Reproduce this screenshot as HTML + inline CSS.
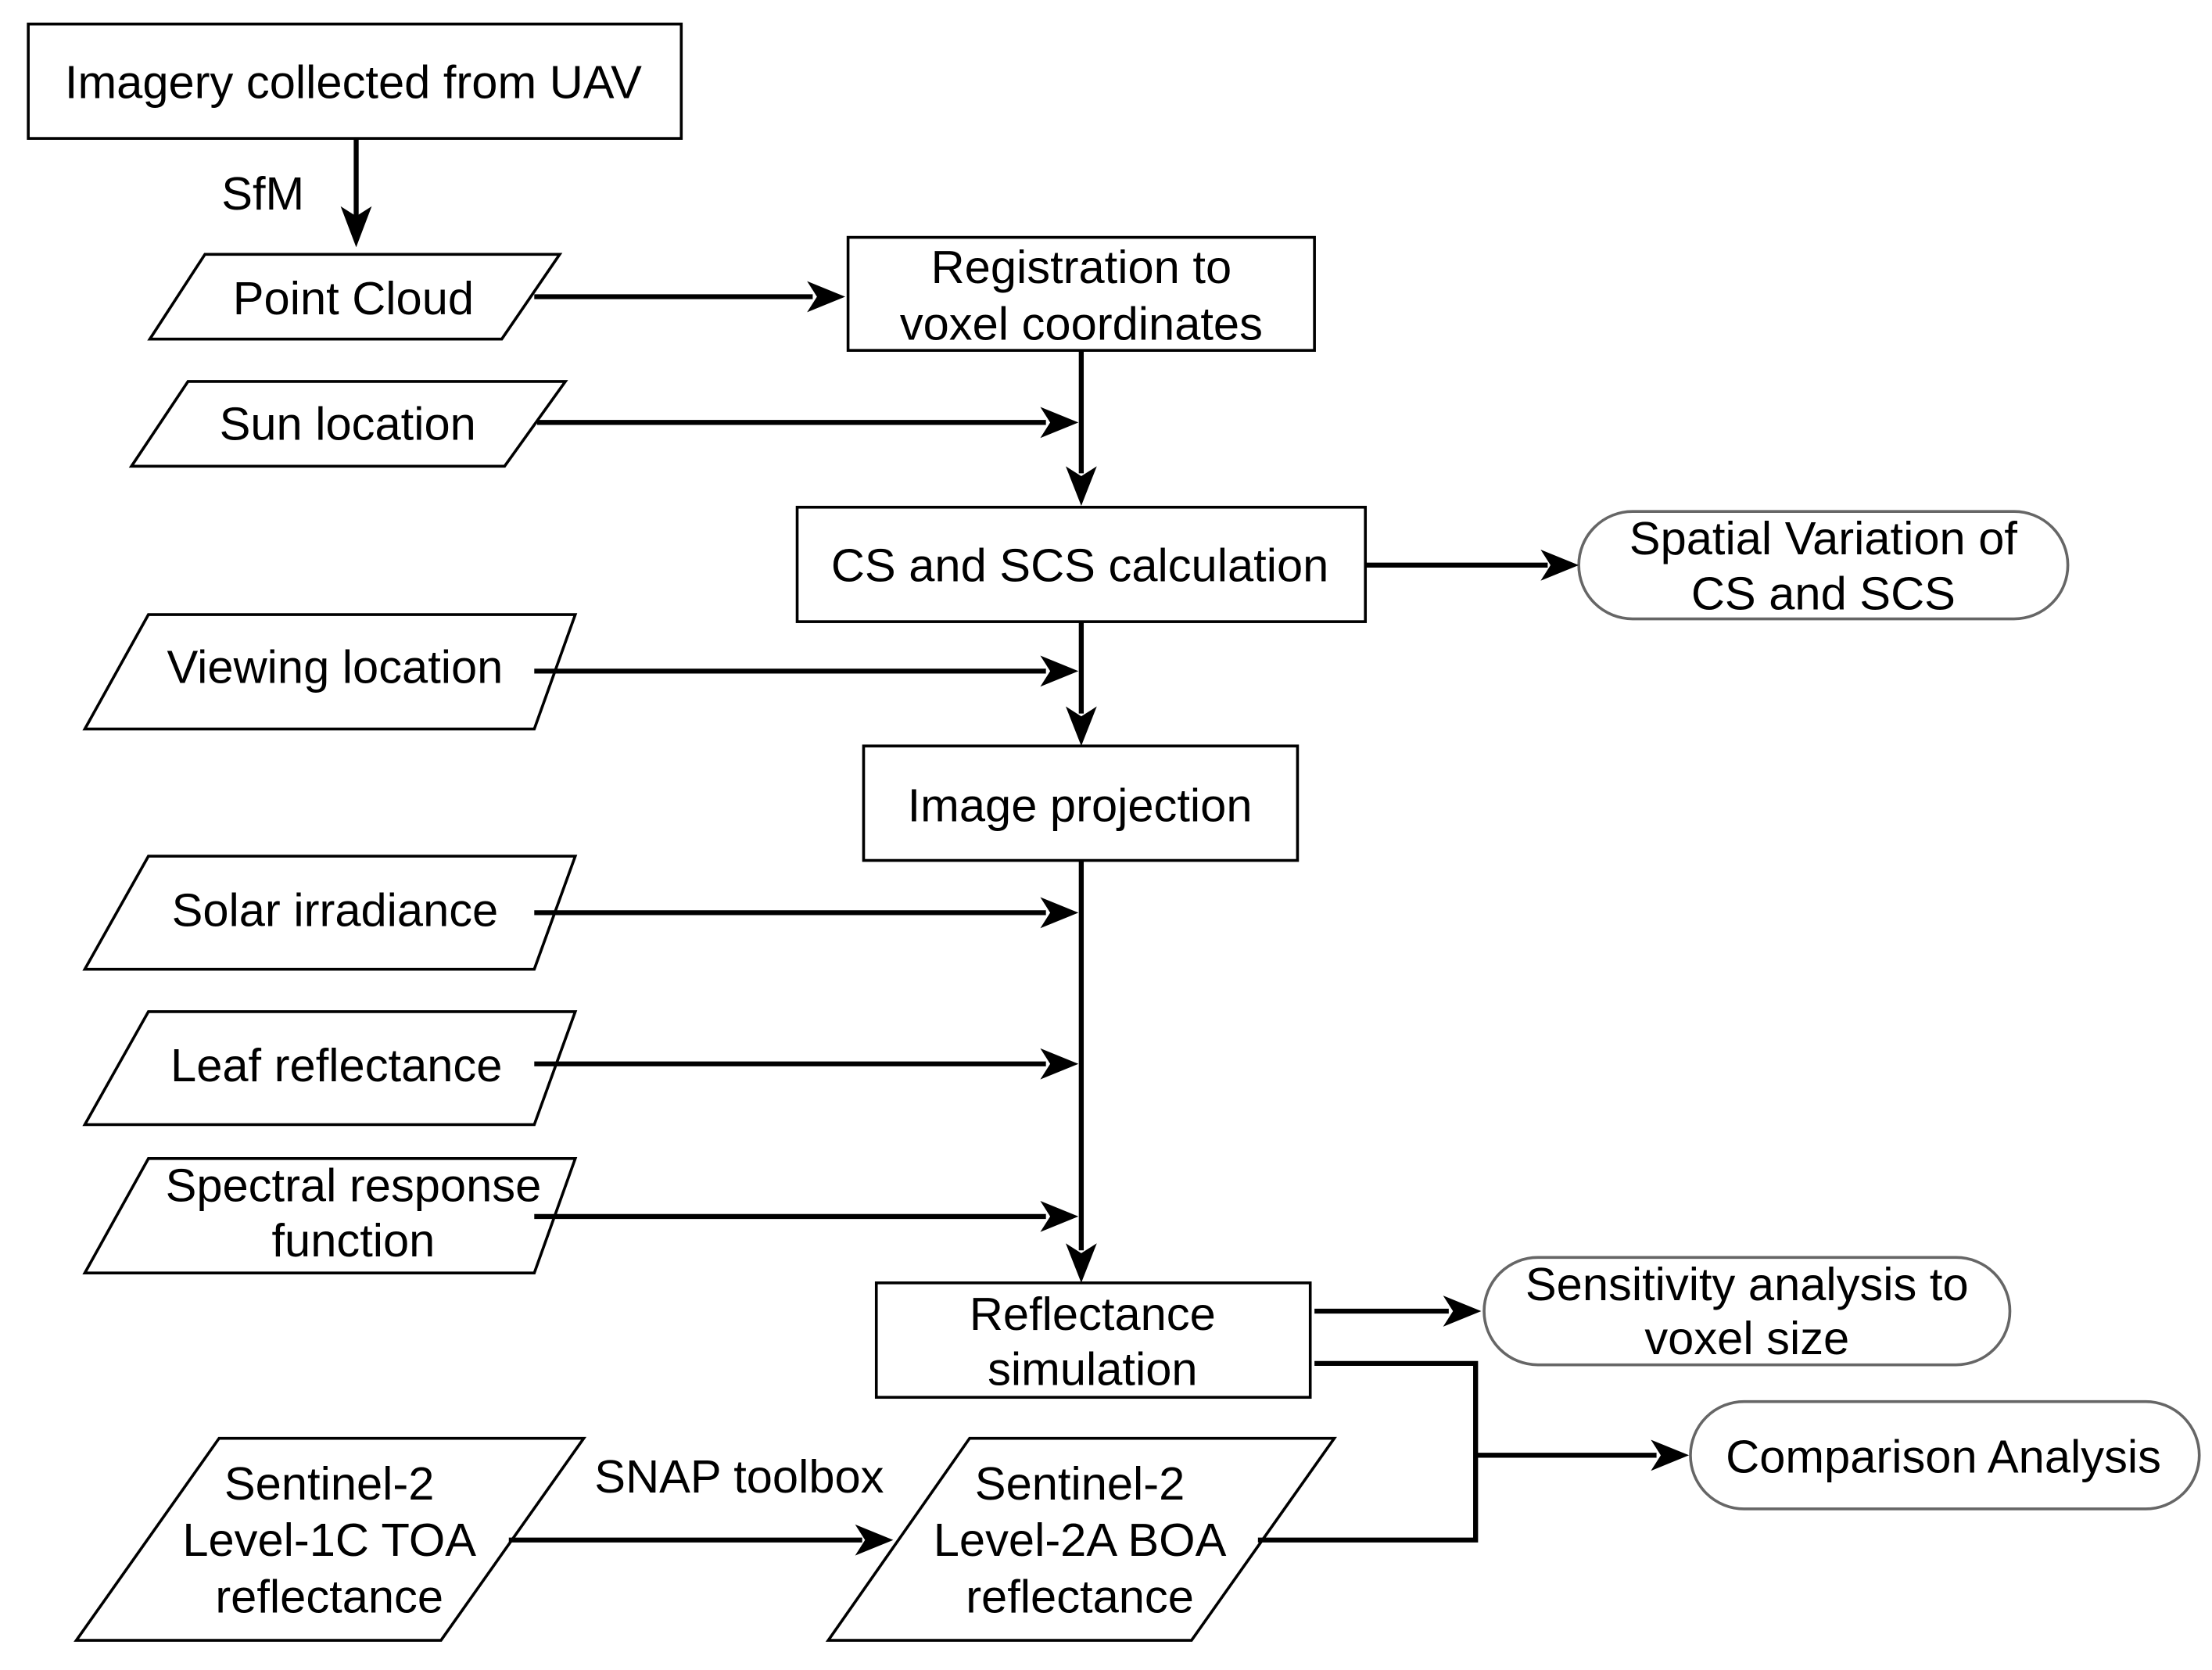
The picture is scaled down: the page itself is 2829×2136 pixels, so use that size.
<!DOCTYPE html>
<html><head><meta charset="utf-8"><style>
html,body{margin:0;padding:0;background:#fff;}
svg{display:block;}
text{font-family:"Liberation Sans",Arial,sans-serif;font-size:33px;fill:#000;text-anchor:middle;dominant-baseline:central;}
</style></head><body>
<svg width="2829" height="2136" viewBox="0 0 1565 1182" preserveAspectRatio="none" xmlns="http://www.w3.org/2000/svg">
<g fill="#fff" stroke="#000" stroke-width="2">
<rect x="20" y="17" width="462" height="81"/>
<polygon points="145,180 396,180 355,240 106,240"/>
<rect x="600" y="168" width="330" height="80"/>
<polygon points="133,270 400,270 357,330 93,330"/>
<rect x="564" y="359" width="402" height="81"/>
<polygon points="105,435 407,435 378,516 60,516"/>
<rect x="611" y="528" width="307" height="81"/>
<polygon points="105,606 407,606 378,686 60,686"/>
<polygon points="105,716 407,716 378,796 60,796"/>
<polygon points="105,820 407,820 378,901 60,901"/>
<rect x="620" y="908" width="307" height="81"/>
<polygon points="155,1018 413,1018 312,1161 54,1161"/>
<polygon points="686,1018 944,1018 843,1161 586,1161"/>
</g>
<g fill="#fff" stroke="#666" stroke-width="2">
<rect x="1117" y="362" width="346" height="76" rx="38"/>
<rect x="1050" y="890" width="372" height="76" rx="38"/>
<rect x="1196" y="992" width="360" height="76" rx="38"/>
</g>
<g stroke="#000" stroke-width="3.5" fill="none">
<line x1="252" y1="98" x2="252" y2="155"/>
<line x1="378" y1="210" x2="575" y2="210"/>
<line x1="765" y1="248" x2="765" y2="335"/>
<line x1="380" y1="299" x2="740" y2="299"/>
<line x1="966" y1="400" x2="1095" y2="400"/>
<line x1="378" y1="475" x2="740" y2="475"/>
<line x1="765" y1="440" x2="765" y2="505"/>
<line x1="765" y1="609" x2="765" y2="885"/>
<line x1="378" y1="646" x2="740" y2="646"/>
<line x1="378" y1="753" x2="740" y2="753"/>
<line x1="378" y1="861" x2="740" y2="861"/>
<line x1="930" y1="928" x2="1025" y2="928"/>
<polyline points="930,965 1044,965 1044,1090 890,1090"/>
<line x1="1044" y1="1030" x2="1172" y2="1030"/>
<line x1="360" y1="1090" x2="610" y2="1090"/>
</g>
<g fill="#000">
<polygon points="252,175 241,146 252,153 263,146"/>
<polygon points="598,210 571,199 578,210 571,221"/>
<polygon points="765,358 754,330 765,337 776,330"/>
<polygon points="763,299 736,288 743,299 736,310"/>
<polygon points="1117,400 1090,389 1097,400 1090,411"/>
<polygon points="763,475 736,464 743,475 736,486"/>
<polygon points="765,528 754,500 765,507 776,500"/>
<polygon points="763,646 736,635 743,646 736,657"/>
<polygon points="763,753 736,742 743,753 736,764"/>
<polygon points="763,861 736,850 743,861 736,872"/>
<polygon points="765,908 754,880 765,887 776,880"/>
<polygon points="1048,928 1021,917 1028,928 1021,939"/>
<polygon points="1195,1030 1168,1019 1175,1030 1168,1041"/>
<polygon points="632,1090 605,1079 612,1090 605,1101"/>
</g>
<text x="250" y="58">Imagery collected from UAV</text>
<text x="186" y="137">SfM</text>
<text x="250" y="211">Point Cloud</text>
<text x="765" y="189">Registration to</text>
<text x="765" y="229">voxel coordinates</text>
<text x="246" y="300">Sun location</text>
<text x="764" y="400">CS and SCS calculation</text>
<text x="1290" y="381">Spatial Variation of</text>
<text x="1290" y="420">CS and SCS</text>
<text x="237" y="472">Viewing location</text>
<text x="764" y="570">Image projection</text>
<text x="237" y="644">Solar irradiance</text>
<text x="238" y="754">Leaf reflectance</text>
<text x="250" y="839">Spectral response</text>
<text x="250" y="878">function</text>
<text x="773" y="930">Reflectance</text>
<text x="773" y="969">simulation</text>
<text x="1236" y="909">Sensitivity analysis to</text>
<text x="1236" y="947">voxel size</text>
<text x="1375" y="1031">Comparison Analysis</text>
<text x="233" y="1050">Sentinel-2</text>
<text x="233" y="1090">Level-1C TOA</text>
<text x="233" y="1130">reflectance</text>
<text x="523" y="1045">SNAP toolbox</text>
<text x="764" y="1050">Sentinel-2</text>
<text x="764" y="1090">Level-2A BOA</text>
<text x="764" y="1130">reflectance</text>
</svg>
</body></html>
